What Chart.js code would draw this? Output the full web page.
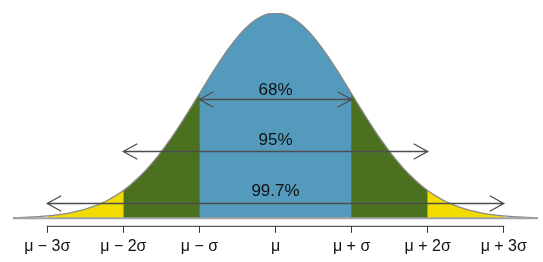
<!DOCTYPE html>
<html>
<head>
<meta charset="utf-8">
<script src="https://cdn.jsdelivr.net/npm/chart.js@4"></script>
<style>
  html, body { margin: 0; padding: 0; background: #ffffff; }
  #wrap { width: 543px; height: 262px; position: relative; }
</style>
</head>
<body>
<div id="wrap"><canvas id="c" width="543" height="262"></canvas></div>
<script>
// x positions in units of sigma from the mean
const curveX = [-3.5, -3.4, -3.3, -3.2, -3.1, -3.0, -2.9, -2.8, -2.7, -2.6, -2.5, -2.4, -2.3, -2.2, -2.1, -2.0,
  -1.9, -1.8, -1.7, -1.6, -1.5, -1.4, -1.3, -1.2, -1.1, -1.0, -0.9, -0.8, -0.7, -0.6, -0.5, -0.4, -0.3, -0.2, -0.1,
  0.0, 0.1, 0.2, 0.3, 0.4, 0.5, 0.6, 0.7, 0.8, 0.9, 1.0, 1.1, 1.2, 1.3, 1.4, 1.5, 1.6, 1.7, 1.8, 1.9, 2.0,
  2.1, 2.2, 2.3, 2.4, 2.5, 2.6, 2.7, 2.8, 2.9, 3.0, 3.1, 3.2, 3.3, 3.4, 3.5];
// curve height (density) at each x
const curveY = [0.0009, 0.0012, 0.0017, 0.0024, 0.0033, 0.0044, 0.0060, 0.0079, 0.0104, 0.0136, 0.0175, 0.0224, 0.0283, 0.0355, 0.0440, 0.0540,
  0.0656, 0.0790, 0.0940, 0.1109, 0.1295, 0.1497, 0.1714, 0.1942, 0.2179, 0.2420, 0.2661, 0.2897, 0.3123, 0.3332, 0.3521, 0.3683, 0.3814, 0.3910, 0.3970,
  0.3989, 0.3970, 0.3910, 0.3814, 0.3683, 0.3521, 0.3332, 0.3123, 0.2897, 0.2661, 0.2420, 0.2179, 0.1942, 0.1714, 0.1497, 0.1295, 0.1109, 0.0940, 0.0790, 0.0656, 0.0540,
  0.0440, 0.0355, 0.0283, 0.0224, 0.0175, 0.0136, 0.0104, 0.0079, 0.0060, 0.0044, 0.0033, 0.0024, 0.0017, 0.0012, 0.0009];

// shaded bands: half-width (in sigma) of each band
const bandHalfWidths = [1, 2, 3];
const bandColors = ['#539abc', '#4b701f', '#f2dc00'];

// x axis ticks
const tickValues = [-3, -2, -1, 0, 1, 2, 3];
const tickLabels = ['μ − 3σ', 'μ − 2σ', 'μ − σ', 'μ', 'μ + σ', 'μ + 2σ', 'μ + 3σ'];

// annotation arrows
const arrowLabels = ['68%', '95%', '99.7%'];
const arrowHalfSpans = [1, 2, 3];
const arrowHeights = [0.2313, 0.1303, 0.0304];
const arrowLabelHeights = [0.2489, 0.1515, 0.0519];

const FONT = "'Liberation Sans', Arial, Helvetica, sans-serif";

const allPoints = curveX.map((x, i) => ({ x: x, y: curveY[i] }));

const datasets = [];
// outline of curve (top)
datasets.push({
  data: allPoints, borderColor: '#8a8a8a', borderWidth: 1.3, fill: false,
  pointRadius: 0, cubicInterpolationMode: 'monotone', order: 0
});
// baseline
datasets.push({
  data: [{ x: -3.6, y: 0 }, { x: 3.6, y: 0 }], borderColor: '#a3a3a3', borderWidth: 2.2, fill: false,
  pointRadius: 0, order: -1
});
bandHalfWidths.forEach((hw, k) => {
  datasets.push({
    data: allPoints.filter(p => p.x >= -hw - 1e-9 && p.x <= hw + 1e-9),
    borderWidth: 0, borderColor: 'rgba(0,0,0,0)', backgroundColor: bandColors[k],
    fill: 'origin', pointRadius: 0, cubicInterpolationMode: 'monotone', order: 1 + k
  });
});

const axisAndArrows = {
  id: 'axisAndArrows',
  afterDatasetsDraw(chart) {
    const ctx = chart.ctx;
    const xs = chart.scales.x, ys = chart.scales.y;
    ctx.save();
    ctx.strokeStyle = '#4d4d4d';
    ctx.lineWidth = 1.3;
    ctx.lineCap = 'butt';
    arrowLabels.forEach((lab, i) => {
      const x1 = xs.getPixelForValue(-arrowHalfSpans[i]);
      const x2 = xs.getPixelForValue(arrowHalfSpans[i]);
      const y = Math.round(ys.getPixelForValue(arrowHeights[i])) + 0.5;
      ctx.beginPath();
      ctx.moveTo(x1, y); ctx.lineTo(x2, y);
      ctx.moveTo(x1 + 14, y - 7.7); ctx.lineTo(x1, y); ctx.lineTo(x1 + 14, y + 7.7);
      ctx.moveTo(x2 - 14, y - 7.7); ctx.lineTo(x2, y); ctx.lineTo(x2 - 14, y + 7.7);
      ctx.stroke();
      ctx.fillStyle = '#111111';
      ctx.font = '17px ' + FONT;
      ctx.textAlign = 'center';
      ctx.textBaseline = 'middle';
      ctx.fillText(lab, xs.getPixelForValue(0), ys.getPixelForValue(arrowLabelHeights[i]));
    });
    ctx.restore();
  },
  afterDraw(chart) {
    const ctx = chart.ctx;
    const xs = chart.scales.x;
    const y = chart.chartArea.bottom + 0.5;
    ctx.save();
    ctx.strokeStyle = '#333333';
    ctx.lineWidth = 1;
    ctx.beginPath();
    ctx.moveTo(xs.getPixelForValue(tickValues[0]) - 0.5, y);
    ctx.lineTo(xs.getPixelForValue(tickValues[tickValues.length - 1]) + 0.5, y);
    ctx.stroke();
    ctx.restore();
  }
};

new Chart(document.getElementById('c'), {
  type: 'line',
  data: { datasets: datasets },
  options: {
    responsive: false,
    animation: false,
    events: [],
    layout: { padding: { left: 13, right: 5, top: 13, bottom: 2 } },
    plugins: { legend: { display: false }, tooltip: { enabled: false } },
    scales: {
      x: {
        type: 'linear', min: -3.45, max: 3.45,
        afterBuildTicks: (s) => { s.ticks = tickValues.map(v => ({ value: v })); },
        ticks: {
          callback: (v) => tickLabels[tickValues.indexOf(v)],
          color: '#111111', font: { family: FONT, size: 16 }, padding: 4,
          maxRotation: 0, autoSkip: false
        },
        grid: { drawOnChartArea: false, tickLength: 7, color: '#333333', lineWidth: 1 },
        border: { display: false }
      },
      y: { display: false, min: -0.0147, max: 0.3989 }
    }
  },
  plugins: [axisAndArrows]
});
</script>
</body>
</html>
